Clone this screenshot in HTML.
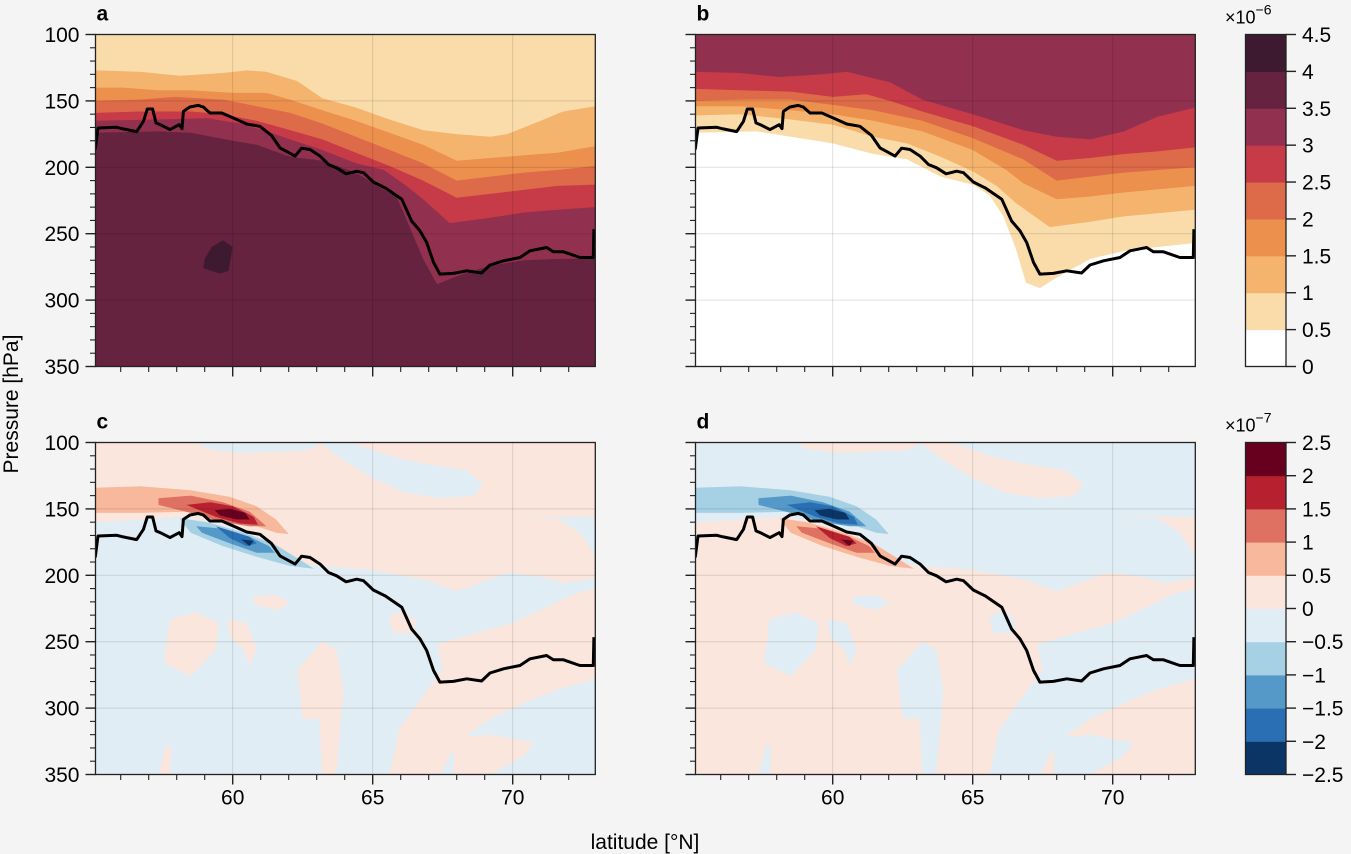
<!DOCTYPE html>
<html><head><meta charset="utf-8"><style>
body{margin:0;background:#f4f4f4;}
svg text{font-family:"Liberation Sans",sans-serif;fill:#000;}
</style></head><body>
<svg id="fig" width="1351" height="854" xmlns="http://www.w3.org/2000/svg" style="display:block">
<rect width="1351" height="854" fill="#f4f4f4"/>
</svg>
<script>
// ---------- data ----------
const tropoLat=[55.09,55.19,55.86,56.09,56.57,56.81,56.95,57.14,57.26,57.46,57.76,57.98,58.09,58.19,58.24,58.47,58.77,58.95,59.19,59.61,60.02,60.50,60.97,61.39,61.69,62.23,62.46,62.76,63.12,63.42,63.71,64.05,64.43,64.67,65.02,65.44,66.04,66.39,66.69,66.93,67.17,67.40,67.88,68.36,68.89,69.19,69.67,70.26,70.62,71.21,71.45,71.81,72.40,72.88,72.90];
const tropoP=[186.6,170.4,169.9,171.1,173.1,165.4,156.1,156.1,166.6,168.4,171.6,169.1,167.9,170.9,157.9,154.6,153.4,154.6,159.1,159.1,162.9,167.4,169.1,176.1,185.4,191.6,185.6,186.6,191.6,197.9,200.4,204.9,202.9,204.1,211.1,215.4,224.1,240.4,247.9,256.6,271.6,280.4,279.9,277.9,279.6,273.6,270.4,267.9,262.9,260.4,263.6,263.6,267.9,267.9,246.6];
const seqColors=["#ffffff","#fadcab","#f5b46e","#ec904e","#dd6a48","#c73a47","#92304f","#65233f","#3d1a2f"];
const seqTicks=["0","0.5","1","1.5","2","2.5","3","3.5","4","4.5"];
const divColors=["#0b3565","#2a6fb3","#5599c8","#a6d0e4","#e1edf4","#fae6dc","#f8b89b","#de7161","#b7202e","#67001f"];
const divTicks=["\u22122.5","\u22122","\u22121.5","\u22121","\u22120.5","0","0.5","1","1.5","2","2.5"];
const xTicks=[60,65,70];
const yTicks=[100,150,200,250,300,350];
const aB1=[[55.1,127],[56.7,128],[58.1,131],[59.65,129],[60.5,127],[61.2,128],[62.3,135],[63.2,148],[64.4,155],[65.6,164],[66.8,172],[68.0,175],[69.2,177],[69.8,175],[71.0,165],[71.8,158],[72.95,154]];
const aB2=[[55.1,140],[56.1,140],[57.3,142],[58.5,142],[60.0,144],[61.2,144],[62.05,149],[63.2,157],[64.4,165],[65.6,174],[66.8,183],[68.0,195],[69.2,193],[70.4,191],[71.6,189],[72.95,184]];
const aB3=[[55.1,150],[56.7,149],[57.9,147],[59.65,149],[60.85,154],[62.05,159],[63.2,167],[64.4,177],[65.6,187],[66.8,197],[68.0,210],[69.2,207],[70.4,204],[71.6,202],[72.95,199]];
const aB4=[[55.1,159],[56.7,158],[58.5,158],[59.65,160],[60.85,165],[62.05,172],[63.2,179],[64.4,189],[65.6,199],[66.8,210],[68.0,223],[69.2,220],[70.4,217],[71.6,214],[72.95,213]];
const aB5=[[55.1,165],[57.3,164],[59.1,163],[60.25,167],[61.1,172],[62.05,179],[63.2,187],[64.4,197],[65.4,202],[66.2,214],[66.8,224],[67.75,242],[69.2,238],[70.4,234],[71.6,232],[72.95,230]];
const aB6=[[55.1,174],[57.3,173],[58.5,174],[60.0,180],[60.85,183],[62.05,192],[63.2,195],[64.4,204],[65.4,217],[65.85,222],[66.3,244],[66.8,269],[67.3,288],[68.0,282],[69.2,274],[70.4,270],[71.6,269],[72.95,269]];
const aBlob=[[59.0,269],[59.25,260],[59.65,255],[60.0,260],[59.85,278],[59.55,280],[58.95,276]];
const bC1=[[55.1,128],[56.7,129],[58.1,132],[59.65,130],[60.5,128],[62.05,136],[63.2,149],[65.0,160],[66.8,172],[68.0,177],[69.2,179],[70.4,173],[71.6,162],[72.95,155]];
const bC2=[[55.1,141],[56.7,142],[58.5,143],[60.0,147],[61.2,145],[62.05,150],[63.2,158],[65.0,169],[66.8,183],[68.0,195],[69.2,193],[70.4,190],[71.6,188],[72.95,185]];
const bC3=[[55.1,150],[56.7,149],[58.5,149],[60.0,153],[61.45,157],[63.2,165],[65.0,178],[66.8,194],[68.0,210],[69.2,207],[70.4,204],[72.95,200]];
const bC4=[[55.1,154],[56.7,154],[58.5,157],[60.0,160],[61.45,165],[63.2,173],[65.0,187],[66.2,202],[66.8,212],[68.0,224],[69.2,222],[70.4,219],[72.95,214]];
const bC5=[[55.1,161],[56.7,160],[58.5,164],[60.0,168],[61.45,177],[62.65,182],[63.85,192],[65.0,203],[65.85,214],[66.55,227],[67.75,245],[69.2,241],[70.4,237],[72.95,232]];
const bC6=[[55.1,174],[57.3,173],[58.5,177],[60.0,182],[61.45,190],[62.65,194],[63.85,207],[65.0,213],[65.6,221],[66.1,237],[66.55,262],[66.9,287],[67.4,291],[68.0,283],[69.2,269],[70.4,263],[71.6,260],[72.95,257]];
const wUpper=[[55.1,160],[58.35,156],[60.25,165],[61.55,178],[62.3,191],[63.2,193],[65.0,196],[66.8,203],[68.0,212],[69.2,203],[69.8,198],[71.0,201],[71.8,206],[72.95,202]];
const wT1=[[63.1,100],[63.95,113],[65.0,127],[66.2,138],[67.4,142],[68.6,140],[68.95,132],[68.35,121],[66.8,116],[65.6,110],[64.65,103],[64.2,100]];
const wT2=[[58.7,100],[63.2,100],[62.65,106],[60.25,108],[59.1,105]];
const wT3=[[70.0,156],[71.6,157],[72.4,168],[72.95,185],[72.95,156]];
const wP1=[[65.6,350],[65.95,316],[66.8,291],[67.5,271],[67.3,252],[68.6,244],[70.0,236],[71.2,224],[72.2,214],[72.95,210],[72.95,278],[71.6,286],[70.75,293],[69.2,308],[68.0,326],[67.4,350]];
const wP2=[[67.9,322],[69.2,320],[70.75,326],[70.4,336],[69.2,350],[67.9,350]];
const wP3=[[65.6,231],[66.1,226],[66.55,235],[66.45,244],[65.7,243]];
const wP4=[[57.75,233],[58.7,228],[59.5,236],[59.4,256],[58.5,276],[57.55,266]];
const wP5=[[59.8,233],[60.5,236],[60.85,256],[60.6,268],[60.4,256],[59.9,246]];
const wP6=[[63.2,250],[63.7,256],[63.95,286],[63.7,350],[63.2,350],[63.1,308],[62.5,308],[62.3,271]];
const wP7=[[60.75,216],[61.55,215],[62.05,221],[61.55,226],[60.75,222]];
const wP8=[[57.35,350],[57.65,326],[57.8,331],[57.75,350]];
const sU1=[[55.1,134],[56.7,133],[58.5,136],[59.9,141],[60.85,148],[61.55,158],[62.0,169],[61.55,168],[60.85,163],[59.65,156],[58.5,152],[56.7,153],[55.1,153]];
const sU2=[[57.35,142],[58.5,140],[59.65,145],[60.6,152],[61.2,163],[60.6,163],[59.65,160],[58.5,153],[57.35,147]];
const sU3=[[58.35,147],[59.2,145],[60.0,148],[60.75,156],[60.9,162],[60.25,161],[59.4,156]];
const sU4=[[59.35,151],[59.9,150],[60.45,153],[60.6,158],[60.15,158],[59.55,155]];
const sL1=[[58.1,157],[59.1,160],[60.25,167],[61.45,176],[62.3,187],[62.9,195],[62.05,193],[60.85,186],[59.65,178],[58.5,168]];
const sL2=[[58.7,163],[59.65,165],[60.6,171],[61.3,178],[61.5,183],[60.85,183],[59.9,176],[58.9,168]];
const sL3=[[59.4,163],[60.0,167],[60.6,171],[60.85,176],[60.5,178],[59.9,172]];
const sL4=[[60.3,173],[60.75,174],[60.6,178]];

// ---------- drawing ----------
const NS="http://www.w3.org/2000/svg";
const svg=document.getElementById('fig');
function mk(tag,attrs,parent){const e=document.createElementNS(NS,tag);for(const k in attrs)e.setAttribute(k,attrs[k]);(parent||svg).appendChild(e);return e;}
const LAT0=55.1,LAT1=72.95,W=499.8,H=332;
const FS=21;
const panels={a:{x0:95.5,y0:34.5},b:{x0:695.5,y0:34.5},c:{x0:95.5,y0:442.5},d:{x0:695.5,y0:442.5}};
function xs(P,lat){return P.x0+(lat-LAT0)/(LAT1-LAT0)*W;}
function ys(P,p){return P.y0+(p-100)/250*H;}
function ptsStr(P,arr){return arr.map(d=>xs(P,d[0]).toFixed(1)+','+ys(P,d[1]).toFixed(1)).join(' ');}
function abovePoly(P,arr){return [[LAT0-1,90]].concat([[LAT0-1,arr[0][1]]],arr,[[LAT1+1,arr[arr.length-1][1]],[LAT1+1,90]]);}
function poly(P,g,arr,color,name){const e=mk('polygon',{points:ptsStr(P,arr),fill:color},g);

return e;}
function panelGroup(key){
  const P=panels[key];
  const cp=mk('clipPath',{id:'clip-'+key});mk('rect',{x:P.x0,y:P.y0,width:W,height:H},cp);
  const g=mk('g',{'clip-path':'url(#clip-'+key+')'});
  
  
  return [P,g];
}
function finishPanel(key,showX,showY){
  const P=panels[key];
  const gg=mk('g',{});
  
  
  xTicks.forEach(t=>mk('line',{x1:xs(P,t),x2:xs(P,t),y1:P.y0,y2:P.y0+H,stroke:'#000','stroke-opacity':0.12,'stroke-width':1},gg));
  yTicks.slice(1,-1).forEach(t=>mk('line',{x1:P.x0,x2:P.x0+W,y1:ys(P,t),y2:ys(P,t),stroke:'#000','stroke-opacity':0.12,'stroke-width':1},gg));
  const cp=mk('clipPath',{id:'lclip-'+key});mk('rect',{x:P.x0,y:P.y0,width:W,height:H},cp);
  const tl=mk('polyline',{points:ptsStr(P,tropoLat.map((l,i)=>[l,tropoP[i]])),fill:'none',stroke:'#000','stroke-width':3,'stroke-linejoin':'round','clip-path':'url(#lclip-'+key+')'},gg);
  
  
  mk('rect',{x:P.x0,y:P.y0,width:W,height:H,fill:'none',stroke:'#222','stroke-width':1.3},gg);
  for(let p=100;p<=350;p+=10){const maj=(p%50===0);const y=ys(P,p);
    mk('line',{x1:P.x0,x2:P.x0-(maj?10:5.5),y1:y,y2:y,stroke:'#222','stroke-width':maj?1.4:1.1},gg);}
  if(showY) yTicks.forEach(t=>{const tx=mk('text',{x:P.x0-16,y:ys(P,t)+7.5,'text-anchor':'end','font-size':FS},gg);tx.textContent=t;});
  for(let l=56;l<=72;l++){const maj=(l%5===0);const x=xs(P,l);
    mk('line',{x1:x,x2:x,y1:P.y0+H,y2:P.y0+H+(maj?10:5.5),stroke:'#222','stroke-width':maj?1.4:1.1},gg);}
  if(showX) xTicks.forEach(t=>{const tx=mk('text',{x:xs(P,t),y:P.y0+H+30,'text-anchor':'middle','font-size':FS},gg);tx.textContent=t;});
  const lab=mk('text',{x:P.x0+1,y:P.y0-14,'font-size':21,'font-weight':'bold'},gg);lab.textContent=key;
  
  
}
(function(){const [P,g]=panelGroup('a');
  mk('rect',{x:P.x0,y:P.y0,width:W,height:H,fill:seqColors[7]},g);
  poly(P,g,abovePoly(P,aB6),seqColors[6],'level-3-3.5');
  poly(P,g,abovePoly(P,aB5),seqColors[5],'level-2.5-3');
  poly(P,g,abovePoly(P,aB4),seqColors[4],'level-2-2.5');
  poly(P,g,abovePoly(P,aB3),seqColors[3],'level-1.5-2');
  poly(P,g,abovePoly(P,aB2),seqColors[2],'level-1-1.5');
  poly(P,g,abovePoly(P,aB1),seqColors[1],'level-0.5-1');
  poly(P,g,aBlob,seqColors[8],'level-4-4.5');
  finishPanel('a',false,true);})();
(function(){const [P,g]=panelGroup('b');
  mk('rect',{x:P.x0,y:P.y0,width:W,height:H,fill:seqColors[0]},g);
  poly(P,g,abovePoly(P,bC6),seqColors[1],'level-0.5-1');
  poly(P,g,abovePoly(P,bC5),seqColors[2],'level-1-1.5');
  poly(P,g,abovePoly(P,bC4),seqColors[3],'level-1.5-2');
  poly(P,g,abovePoly(P,bC3),seqColors[4],'level-2-2.5');
  poly(P,g,abovePoly(P,bC2),seqColors[5],'level-2.5-3');
  poly(P,g,abovePoly(P,bC1),seqColors[6],'level-3-3.5');
  finishPanel('b',false,false);})();
function anomPanel(key,sign){const [P,g]=panelGroup(key);
  const pos=divColors[5],neg=divColors[4];
  const A=sign>0?pos:neg,B=sign>0?neg:pos;
  mk('rect',{x:P.x0,y:P.y0,width:W,height:H,fill:B},g);
  poly(P,g,abovePoly(P,wUpper),A,'weak-upper-region');
  [wT1,wT2,wT3].forEach((s,i)=>poly(P,g,s,B,'weak-upper-patch-'+i));
  [wP1,wP2,wP3,wP4,wP5,wP6,wP7,wP8].forEach((s,i)=>poly(P,g,s,A,'weak-lower-patch-'+i));
  const up=sign>0?[6,7,8,9]:[3,2,1,0], lo=sign>0?[3,2,1,0]:[6,7,8,9];
  [sU1,sU2,sU3,sU4].forEach((s,i)=>poly(P,g,s,divColors[up[i]],'upper-core-'+i));
  [sL1,sL2,sL3,sL4].forEach((s,i)=>poly(P,g,s,divColors[lo[i]],'lower-core-'+i));
  finishPanel(key,true,key==='c');}
anomPanel('c',1);anomPanel('d',-1);

function colorbar(y0,colors,ticks,exp,name){
  const g=mk('g',{});
  const x0=1245.5,w=40.5,h=332,n=colors.length,sh=h/n;
  colors.forEach((c,i)=>mk('rect',{x:x0,y:y0+h-(i+1)*sh,width:w,height:sh+0.5,fill:c},g));
  mk('rect',{x:x0,y:y0,width:w,height:h,fill:'none',stroke:'#222','stroke-width':1.3},g);
  ticks.forEach((t,i)=>{const y=y0+h-i*sh;mk('line',{x1:x0+w,x2:x0+w+10,y1:y,y2:y,stroke:'#222','stroke-width':1.4},g);
    const tx=mk('text',{x:x0+w+16,y:y+7.5,'font-size':FS},g);tx.textContent=t;});
  const ex=mk('text',{x:1225,y:y0-11,'font-size':18},g);ex.innerHTML='\u00d710<tspan dy="-9" font-size="14">'+exp+'</tspan>';
}
colorbar(34.5,seqColors,seqTicks,'\u22126','colorbar-total');
colorbar(442.5,divColors,divTicks,'\u22127','colorbar-anomaly');
const yl=mk('text',{x:0,y:0,'font-size':FS,'text-anchor':'middle',transform:'translate(18,404) rotate(-90)'});yl.textContent='Pressure [hPa]';

const xl=mk('text',{x:645,y:849,'font-size':FS,'text-anchor':'middle'});xl.textContent='latitude [\u00b0N]';

</script>
</body></html>
